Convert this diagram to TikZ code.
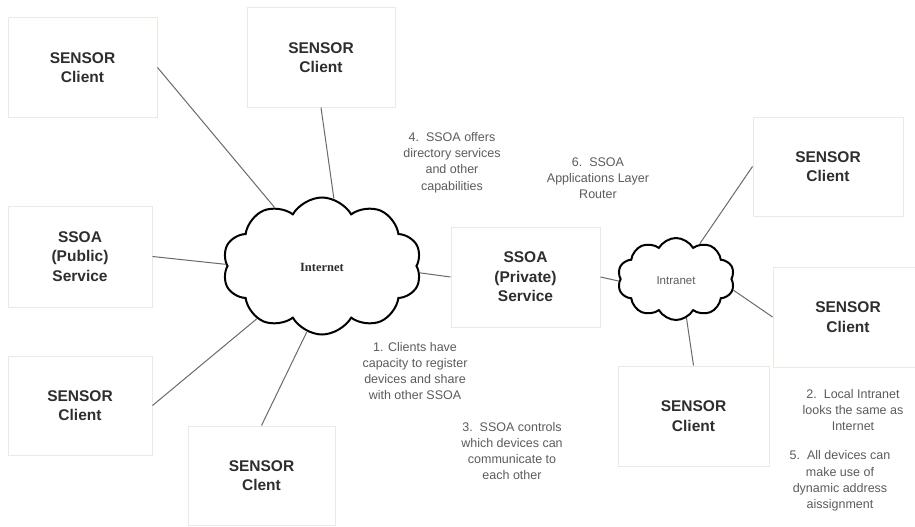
\documentclass[tikz,border=0pt]{standalone}
\usepackage{fontspec}
\setmainfont{Liberation Sans}
\newfontfamily\serifbold{Liberation Serif}
\usetikzlibrary{shapes.symbols}
\definecolor{boxline}{HTML}{EDE9E1}
\definecolor{boxtext}{HTML}{2E2E2E}
\definecolor{notetext}{HTML}{5C5C5C}
\definecolor{wire}{HTML}{6A6A6A}
\begin{document}
\begin{tikzpicture}[x=1pt,y=-1pt,
  boxnode/.style={draw=boxline, line width=1pt, fill=white, rectangle, inner sep=0pt,
    text=boxtext, align=center, font=\bfseries\fontsize{15.5}{19.5}\selectfont},
  netcloud/.style={draw=black, line width=2pt, fill=white, cloud, cloud ignores aspect, inner sep=0pt},
  note/.style={text=notetext, align=center, font=\fontsize{12.5}{16.3}\selectfont, inner sep=0pt},
  wireline/.style={draw=wire, line width=1pt}]
\useasboundingbox (0,0) rectangle (915,527);
\fill[white] (0,0) rectangle (915,527);

% clouds
\node[netcloud, cloud puffs=10, cloud puff arc=120, minimum width=199pt, minimum height=137pt] (inet) at (322,266) {};
\node[font=\serifbold\bfseries\fontsize{12.5}{14}\selectfont, text=boxtext] (inetlbl) at (322,267) {Internet};
\node[netcloud, cloud puffs=10, cloud puff arc=120, minimum width=117pt, minimum height=82pt] (intra) at (676,279) {};
\node[font=\fontsize{11.5}{13}\selectfont, text=notetext] (intralbl) at (676,281) {Intranet};

% boxes
\node[boxnode, minimum width=149pt, minimum height=99pt] (b1) at (82.5,67.5) {SENSOR\\Client};
\node[boxnode, minimum width=148pt, minimum height=99pt] (b2) at (321,57.5) {SENSOR\\Client};
\node[boxnode, minimum width=144pt, minimum height=101pt] (b3) at (80,256.5) {SSOA\\(Public)\\Service};
\node[boxnode, minimum width=144pt, minimum height=99pt] (b4) at (80,405.5) {SENSOR\\Client};
\node[boxnode, minimum width=147pt, minimum height=99pt] (b5) at (261.5,475.5) {SENSOR\\Clent};
\node[boxnode, minimum width=149pt, minimum height=100pt] (b6) at (525.5,277) {SSOA\\(Private)\\Service};
\node[boxnode, minimum width=150pt, minimum height=99pt] (b7) at (828,166.5) {SENSOR\\Client};
\node[boxnode, minimum width=150pt, minimum height=100pt] (b8) at (848,317) {SENSOR\\Client};
\node[boxnode, minimum width=151pt, minimum height=100pt] (b9) at (693.5,416) {SENSOR\\Client};

% connectors
\draw[wireline] (b1.east) -- (inet.129);
\draw[wireline] (b2.south) -- (inet.80);
\draw[wireline] (b3.east) -- (inet.179);
\draw[wireline] (b4.east) -- (inet.219);
\draw[wireline] (b5.north) -- (inet.257);
\draw[wireline] (inet.-4) -- (b6.west);
\draw[wireline] (b6.east) -- (intra.182);
\draw[wireline] (intra.56) -- (b7.west);
\draw[wireline] (intra.-11) -- (b8.west);
\draw[wireline] (intra.-75) -- (b9.north);

% notes
\node[note] (n4) at (452,162.5) {4.\ \ SSOA offers\\directory services\\and other\\capabilities};
\node[note] (n6) at (598,178) {6.\ \ SSOA\\Applications Layer\\Router};
\node[note] (n1) at (415,371) {1. Clients have\\capacity to register\\devices and share\\with other SSOA};
\node[note] (n3) at (512,451) {3.\ \ SSOA controls\\which devices can\\communicate to\\each other};
\node[note] (n2) at (853,410) {2.\ \ Local Intranet\\looks the same as\\Internet};
\node[note] (n5) at (840,481) {5.\ \ All devices can\\make use of\\dynamic address\\aissignment};
\end{tikzpicture}
\end{document}
